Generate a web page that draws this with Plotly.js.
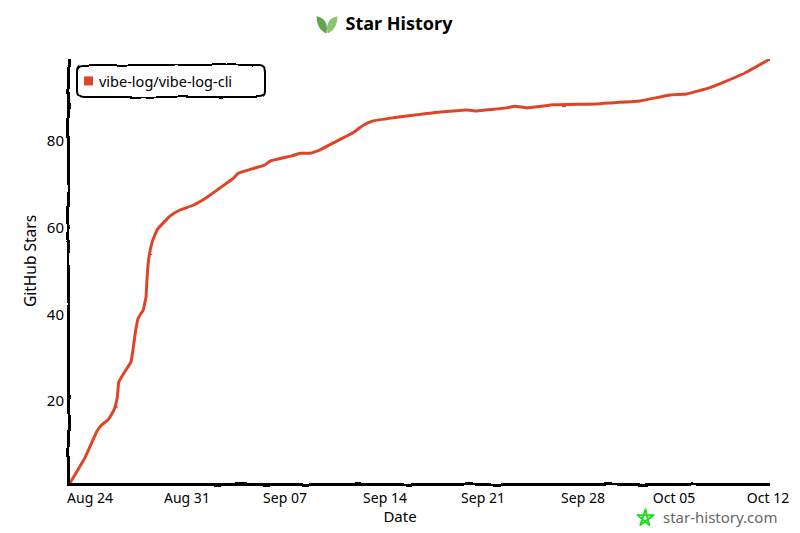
<!DOCTYPE html>
<html>
<head>
<meta charset="utf-8">
<script src="https://cdn.plot.ly/plotly-3.0.1.min.js"></script>
<style>html,body{margin:0;padding:0;background:#fff}#chart{width:800px;height:533px}</style>
</head>
<body>
<svg width="0" height="0" style="position:absolute">
  <defs>
    <filter id="wobble" filterUnits="userSpaceOnUse" x="0" y="0" width="800" height="533">
      <feTurbulence type="fractalNoise" baseFrequency="0.035" numOctaves="2" seed="4"/>
      <feDisplacementMap in="SourceGraphic" scale="3" xChannelSelector="R" yChannelSelector="G"/>
    </filter>
    <filter id="jitter" filterUnits="userSpaceOnUse" x="0" y="0" width="800" height="533">
      <feTurbulence type="fractalNoise" baseFrequency="0.09" numOctaves="2" seed="9"/>
      <feDisplacementMap in="SourceGraphic" scale="1.6" xChannelSelector="R" yChannelSelector="G"/>
    </filter>
  </defs>
</svg>
<div id="chart"></div>
<script>
var seriesName = 'vibe-log/vibe-log-cli';
var dates = [
  '2025-08-24 00:00','2025-08-25 01:00','2025-08-25 21:00','2025-08-26 05:00','2025-08-26 16:00',
  '2025-08-27 02:00','2025-08-27 07:30','2025-08-27 10:00','2025-08-27 20:00','2025-08-28 06:30',
  '2025-08-28 10:00','2025-08-28 14:30','2025-08-28 18:45','2025-08-29 03:00','2025-08-29 07:45',
  '2025-08-29 08:40','2025-08-29 10:00','2025-08-29 12:45','2025-08-29 18:15','2025-08-30 02:40',
  '2025-08-31 00:00','2025-08-31 16:48','2025-09-01 15:00','2025-09-02 13:40','2025-09-03 12:00',
  '2025-09-04 10:20','2025-09-04 18:45','2025-09-05 20:00','2025-09-06 15:30','2025-09-07 00:00',
  '2025-09-08 12:30','2025-09-09 02:30','2025-09-09 19:00','2025-09-10 12:00','2025-09-11 10:20',
  '2025-09-12 20:00','2025-09-13 12:45','2025-09-14 05:30','2025-09-15 15:00','2025-09-17 12:00',
  '2025-09-18 10:00','2025-09-20 18:30','2025-09-21 11:15','2025-09-23 13:40','2025-09-24 03:30',
  '2025-09-24 23:15','2025-09-25 21:30','2025-09-26 20:00','2025-09-29 21:00','2025-10-01 00:45',
  '2025-10-02 21:30','2025-10-05 00:00','2025-10-06 04:00','2025-10-07 19:00','2025-10-08 17:30',
  '2025-10-10 09:00','2025-10-12 00:00'
];
var stars = [
  1,6.8,12.9,14.4,15.6,
  17.9,20.9,24.4,26.7,29,
  32,36.4,39.1,41,44,
  46.4,49.5,53.3,56.8,59.6,
  62.7,64.1,65.2,67,69.2,
  71.4,72.6,73.7,74.5,75.4,
  76.6,77.2,77.2,78,79.6,
  82,83.7,84.7,85.4,86.2,
  86.6,87.2,87,87.7,88.1,
  87.7,88,88.4,88.6,88.9,
  89.3,90.7,90.9,92.4,93.6,
  96,99
];
var xTickVals = ['2025-08-25 09:36','2025-09-01 04:30','2025-09-08 01:10','2025-09-15 01:10','2025-09-21 21:50','2025-09-28 21:50','2025-10-05 06:40','2025-10-11 20:40'];
var xTickText = ['Aug 24','Aug 31','Sep 07','Sep 14','Sep 21','Sep 28','Oct 05','Oct 12'];
var yTickVals = [20,40,60,80];
var yRange = [1,99];
var xRange = ['2025-08-24 00:00','2025-10-12 00:00'];

var FONT = '"Noto Sans", sans-serif';
var leaf = 'data:image/svg+xml;utf8,' + encodeURIComponent(
 '<svg xmlns="http://www.w3.org/2000/svg" viewBox="0 0 40 36"><path d="M19 35C8 31 1 20 1 4c10 1 19 9 19 22z" fill="#63a650"/><path d="M21 35c11-4 18-15 18-31-10 1-19 9-19 22z" fill="#8cc56f"/></svg>');
var star = 'data:image/svg+xml;utf8,' + encodeURIComponent(
 '<svg xmlns="http://www.w3.org/2000/svg" viewBox="0 0 40 40"><path d="M20 3L28 36 3 15H37L9 36z" fill="none" stroke="#1fdc1f" stroke-width="4" stroke-linejoin="round"/></svg>');

function px(v){return (v-70)/700;}
function py(v){return (483-v)/424;}

var data = [{
  type:'scatter', mode:'lines', name:seriesName, x:dates, y:stars,
  line:{color:'#dd4528', width:3, shape:'spline', smoothing:0.3},
  hoverinfo:'skip', showlegend:true
}];
var layout = {
  width:800, height:533,
  margin:{l:70,r:30,t:59,b:50,pad:0},
  paper_bgcolor:'#fff', plot_bgcolor:'#fff',
  font:{family:FONT,color:'#000',size:14},
  title:{text:'<b>Star History</b>', font:{family:FONT,size:18,color:'#000'}, x:px(399), xref:'paper', xanchor:'center', y:0.955, yanchor:'middle'},
  xaxis:{type:'date', range:xRange, tickmode:'array', tickvals:xTickVals, ticktext:xTickText, showgrid:false, zeroline:false,
    showline:true, linecolor:'#000', linewidth:3, ticks:'', tickfont:{size:14,family:FONT},
    title:{text:'Date', font:{size:15,family:FONT}, standoff:9}, automargin:false},
  yaxis:{range:yRange, tickmode:'array', tickvals:yTickVals, showgrid:false, zeroline:false,
    showline:true, linecolor:'#000', linewidth:3, ticks:'', tickfont:{size:15,family:FONT},
    title:{text:'GitHub Stars', font:{size:15.5,family:FONT}, standoff:12}, automargin:false},
  showlegend:true,
  legend:{x:px(59), xanchor:'left', y:py(81), yanchor:'middle', bgcolor:'rgba(0,0,0,0)', borderwidth:0, font:{size:14.5,family:FONT,color:'#000'}, itemclick:false, itemdoubleclick:false},
  shapes:[{type:'path', xref:'paper', yref:'paper', layer:'above',
    path:'M'+px(83)+','+py(65)+' L'+px(259)+','+py(65)+' Q'+px(265)+','+py(65)+' '+px(265)+','+py(71)+' L'+px(265)+','+py(91)+' Q'+px(265)+','+py(97)+' '+px(259)+','+py(97)+' L'+px(83)+','+py(97)+' Q'+px(77)+','+py(97)+' '+px(77)+','+py(91)+' L'+px(77)+','+py(71)+' Q'+px(77)+','+py(65)+' '+px(83)+','+py(65)+' Z',
    line:{color:'#000',width:2}, fillcolor:'rgba(0,0,0,0)'}],
  annotations:[{text:'star-history.com', xref:'paper', yref:'paper', x:px(719.5), y:py(517), xanchor:'center', yanchor:'middle', showarrow:false, font:{size:15,family:FONT,color:'#666666'}}],
  images:[
    {source:leaf, xref:'paper', yref:'paper', x:px(316), y:py(14), sizex:22/700, sizey:20/424, xanchor:'left', yanchor:'top', sizing:'stretch', layer:'above'},
    {source:star, xref:'paper', yref:'paper', x:px(636), y:py(508), sizex:19/700, sizey:19/424, xanchor:'left', yanchor:'top', sizing:'stretch', layer:'above'}
  ]
};
Plotly.newPlot('chart', data, layout, {displayModeBar:false, staticPlot:true}).then(function(){
  var gd = document.getElementById('chart');
  gd.querySelectorAll('path.xlines-above, path.ylines-above').forEach(function(p){p.style.filter='url(#wobble)';});
  gd.querySelectorAll('.shapelayer path').forEach(function(p){p.style.filter='url(#wobble)';});
  gd.querySelectorAll('.scatterlayer .js-line').forEach(function(p){p.style.filter='url(#jitter)';});
  gd.querySelectorAll('.legendlines path').forEach(function(p){
    p.setAttribute('d','M25,0h9');
    p.style.strokeWidth='9px';
  });
  var xt = gd.querySelector('.xtitle');
  if (xt) { xt.setAttribute('x', 400); xt.setAttribute('y', 522); }
  var yt = gd.querySelector('.ytitle');
  if (yt) { yt.setAttribute('x', 36); yt.setAttribute('y', 261); yt.setAttribute('transform', 'rotate(-90,36,261)'); }
});
</script>
</body>
</html>
